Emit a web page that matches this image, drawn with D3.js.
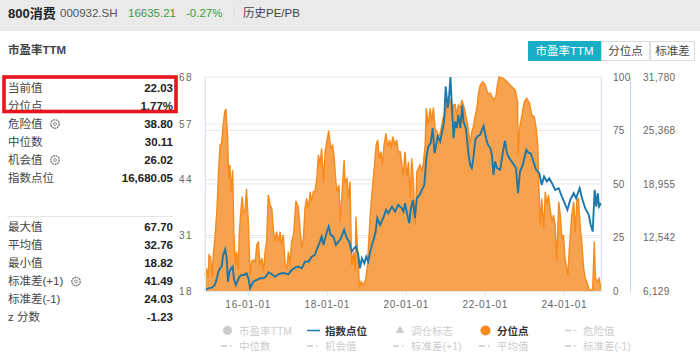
<!DOCTYPE html>
<html>
<head>
<meta charset="utf-8">
<script src="https://cdnjs.cloudflare.com/ajax/libs/d3/7.8.5/d3.min.js"></script>
<style>
html, body { margin: 0; padding: 0; background: #fff; }
svg { display: block; }
text { font-family: "Liberation Sans", "Noto Sans CJK SC", sans-serif; }
</style>
</head>
<body>
<svg id="chart" width="700" height="358"></svg>
<script>
// percentile series (year as decimal, value in %)
var pctYears = [2014.92,2014.96,2015.00,2015.02,2015.06,2015.10,2015.13,2015.17,2015.22,2015.26,2015.30,2015.34,2015.38,2015.42,2015.45,2015.49,2015.52,2015.55,2015.58,2015.62,2015.65,2015.69,2015.72,2015.76,2015.79,2015.82,2015.86,2015.89,2015.93,2015.97,
  2016.02,2016.06,2016.10,2016.14,2016.19,2016.23,2016.27,2016.31,2016.36,2016.40,2016.44,2016.48,2016.52,2016.57,2016.61,2016.65,2016.69,2016.73,2016.78,2016.82,2016.86,2016.90,2016.95,2016.99,
  2017.03,2017.07,2017.11,2017.16,2017.22,2017.28,2017.33,2017.37,2017.41,2017.45,2017.49,2017.54,2017.58,2017.62,2017.66,2017.70,2017.75,2017.79,2017.83,2017.87,2017.92,2017.96,
  2018.00,2018.05,2018.10,2018.15,2018.19,2018.23,2018.27,2018.31,2018.34,2018.39,2018.44,2018.46,2018.51,2018.55,2018.59,2018.63,2018.68,2018.72,2018.74,2018.79,2018.83,2018.87,2018.93,2018.99,
  2019.03,2019.10,2019.17,2019.21,2019.25,2019.29,2019.33,2019.37,2019.41,2019.45,2019.50,2019.54,2019.59,2019.63,2019.67,2019.73,2019.77,2019.81,2019.86,2019.90,2019.94,2019.98,
  2020.03,2020.07,2020.11,2020.15,2020.19,2020.24,2020.28,2020.32,2020.36,2020.41,2020.45,2020.49,2020.52,2020.57,2020.62,2020.66,2020.70,2020.74,2020.79,2020.83,2020.87,2020.91,2020.95,
  2021.00,2021.04,2021.08,2021.12,2021.17,2021.21,2021.25,2021.29,2021.33,2021.38,2021.42,2021.46,2021.50,2021.55,2021.59,2021.63,2021.67,2021.71,2021.76,2021.80,2021.84,2021.88,2021.95,
  2022.01,2022.07,2022.14,2022.22,2022.28,2022.32,2022.36,2022.47,2022.56,2022.64,2022.77,2022.83,2022.84,2022.88,2022.94,
  2023.00,2023.06,2023.13,2023.19,2023.25,2023.30,2023.34,2023.37,2023.40,2023.44,2023.49,2023.53,2023.57,2023.61,2023.65,2023.70,2023.74,2023.78,2023.82,2023.87,2023.91,2023.95,2023.99,
  2024.03,2024.10,2024.14,2024.20,2024.25,2024.29,2024.33,2024.37,2024.41,2024.46,2024.50,2024.54,2024.58,2024.63,2024.68,2024.73,2024.77,2024.80,2024.85,2024.89,2024.94];
var pctValues = [7.5,10.6,5.9,16.8,16.0,6.7,16.8,24.6,37.1,54.2,68.2,69.0,77.6,83.8,85.0,72.9,52.6,58.9,46.4,56.5,27.7,12.1,18.4,9.8,27.7,35.5,44.1,37.1,37.1,47.7,
  30.8,7.5,13.7,14.5,13.7,21.5,23.1,12.1,15.3,9.0,18.4,23.1,44.9,40.2,38.6,28.5,23.1,27.7,23.1,27.7,21.5,26.2,12.1,10.6,
  18.4,12.1,23.1,26.2,42.1,39.4,27.7,19.9,24.6,38.6,43.3,38.6,46.4,41.7,46.4,46.4,52.6,63.6,58.9,66.7,51.1,65.1,
  69.8,74.8,66.7,68.2,62.0,51.1,46.4,49.5,32.4,46.4,61.2,51.1,52.6,43.3,51.1,12.1,18.4,9.0,34.7,15.3,1.2,4.4,2.8,5.9,
  12.1,35.5,51.1,58.9,68.2,70.6,62.0,65.1,58.9,68.2,73.7,67.4,70.6,66.7,72.1,68.2,70.6,65.1,65.1,58.9,54.2,65.1,
  53.4,60.4,43.3,62.0,51.9,30.8,55.8,57.3,58.9,55.8,60.4,68.2,85.4,77.6,85.4,79.1,85.7,76.0,74.5,72.1,73.7,77.6,81.5,
  82.2,90.0,86.9,90.0,82.2,86.9,87.2,82.2,86.9,85.4,89.3,86.9,83.8,79.1,74.5,69.0,74.5,76.8,82.2,85.4,92.4,96.0,97.8,
  96.3,92.4,92.4,89.3,90.8,96.3,100,99.4,97.8,96.3,93.9,88.5,63.6,76.0,82.2,
  88.5,90.0,87.7,82.2,81.5,76.0,68.2,48.0,30.8,43.3,29.3,46.4,40.2,44.9,38.6,32.4,35.5,30.8,13.7,41.7,35.5,24.6,26.2,
  15.3,7.5,19.9,35.5,41.7,27.7,42.5,43.3,30.8,21.5,10.6,5.9,4.4,1.2,0,1.2,23.1,5.9,4.4,5.9,0.9];

// index level series
var indexYears = [2014.92,2015.00,2015.09,2015.17,2015.22,2015.26,2015.30,2015.34,2015.38,2015.43,2015.47,2015.50,2015.54,2015.58,2015.62,2015.65,2015.70,2015.74,2015.79,2015.85,2015.91,2015.97,
  2016.02,2016.06,2016.10,2016.14,2016.23,2016.31,2016.40,2016.46,2016.53,2016.61,2016.69,2016.78,2016.86,2016.95,
  2017.03,2017.11,2017.20,2017.28,2017.37,2017.45,2017.54,2017.62,2017.70,2017.76,2017.83,2017.87,2017.92,2017.98,
  2018.05,2018.10,2018.17,2018.23,2018.30,2018.36,2018.44,2018.51,2018.57,2018.63,2018.69,2018.74,2018.80,2018.84,2018.89,2018.95,
  2019.00,2019.05,2019.10,2019.17,2019.23,2019.28,2019.35,2019.43,2019.50,2019.56,2019.65,2019.73,2019.81,2019.90,2019.94,2019.98,
  2020.03,2020.09,2020.13,2020.18,2020.23,2020.28,2020.35,2020.41,2020.47,2020.52,2020.57,2020.63,2020.68,2020.73,2020.77,2020.81,2020.87,2020.93,2020.97,
  2021.01,2021.06,2021.10,2021.13,2021.17,2021.21,2021.25,2021.29,2021.33,2021.38,2021.43,2021.46,2021.52,2021.59,2021.63,2021.67,2021.71,2021.76,2021.81,2021.88,2021.97,
  2022.03,2022.08,2022.14,2022.18,2022.22,2022.26,2022.31,2022.39,2022.46,2022.51,2022.56,2022.62,2022.71,2022.79,2022.84,2022.89,2022.96,
  2023.05,2023.11,2023.16,2023.23,2023.30,2023.38,2023.44,2023.50,2023.57,2023.63,2023.70,2023.78,2023.87,2023.95,
  2024.02,2024.09,2024.16,2024.25,2024.31,2024.40,2024.46,2024.54,2024.63,2024.68,2024.73,2024.78,2024.82,2024.86,2024.89,2024.94];
var indexValues = [6250,6450,6530,6850,7650,8450,8850,9050,10450,11130,10050,7250,8450,8850,9050,7650,6850,7250,7850,8050,8050,8250,
  7650,6450,6850,7250,7450,7650,7650,7850,8370,8130,7850,8130,8250,8250,
  8130,8650,8930,9050,8850,9650,9650,10250,10450,11250,12050,12650,11650,12850,
  13850,12850,12650,11650,12050,12450,13450,12450,12050,10850,11250,11450,10450,8850,10050,9450,
  10250,9650,10850,12050,13050,14850,14050,14850,15850,15450,16250,15650,16450,16050,15650,16650,
  15450,14250,16050,17050,14850,17250,17650,18250,18850,22050,23450,23850,25650,22650,23650,24650,24050,25450,26450,
  30650,28050,29650,31780,28050,24450,26450,25650,27250,25650,28370,26450,25650,22450,21250,20850,22050,24250,24650,24850,25930,
  24450,23650,23250,22450,20050,21650,20850,20650,22850,24130,22650,22050,21450,20850,17850,20450,21250,
  23050,22650,22650,21650,20650,20250,18850,19850,19250,19650,19050,18250,18450,17450,
  16650,15850,17050,17850,17250,18450,17250,16050,15250,14050,13250,18250,16250,17850,16250,16680];

var xTickYears = [2016, 2018, 2020, 2022, 2024];
var xTickLabels = ["16-01-01", "18-01-01", "20-01-01", "22-01-01", "24-01-01"];
var peTicks = [18, 31, 44, 57, 68];
var pctTicks = [0, 25, 50, 75, 100];
var indexTicks = [6129, 12542, 18955, 25368, 31780];

var topStatLabels = ["当前值", "分位点"];
var topStatValues = ["22.03", "1.77%"];
var midStatLabels = ["危险值", "中位数", "机会值", "指数点位"];
var midStatValues = ["38.80", "30.11", "26.02", "16,680.05"];
var lowStatLabels = ["最大值", "平均值", "最小值", "标准差(+1)", "标准差(-1)", "z 分数"];
var lowStatValues = ["67.70", "32.76", "18.82", "41.49", "24.03", "-1.23"];

var legendRow1 = ["市盈率TTM", "指数点位", "调仓标志", "分位点", "危险值"];
var legendRow2 = ["中位数", "机会值", "标准差(+1)", "平均值", "标准差(-1)"];
var tabLabels = ["市盈率TTM", "分位点", "标准差"];

var svg = d3.select("#chart");

var left = 205, right = 601, top_ = 77, bottom = 291;

var xScale = d3.scaleLinear().domain([2014.92, 2024.94]).range([left, right]);
var peScale = d3.scaleLinear().domain([18, 68]).range([bottom, top_]);
var pctScale = d3.scaleLinear().domain([0, 100]).range([bottom, top_]);
var indexScale = d3.scaleLinear().domain([6129, 31780]).range([bottom, top_]);

var pctData = pctYears.map(function(d, i) { return { x: d, y: pctValues[i] }; });
var indexData = indexYears.map(function(d, i) { return { x: d, y: indexValues[i] }; });

// header band
svg.append("rect").attr("x", 0).attr("y", 0).attr("width", 700).attr("height", 31).attr("fill", "#eaeaea");
svg.append("text").attr("x", 8).attr("y", 18).attr("font-size", 13).attr("font-weight", "bold").attr("fill", "#222").text("800消费");
svg.append("text").attr("x", 60).attr("y", 17).attr("font-size", 11.5).attr("fill", "#555").text("000932.SH");
svg.append("text").attr("x", 128).attr("y", 17).attr("font-size", 11.5).attr("fill", "#3c9a3c").text("16635.21");
svg.append("text").attr("x", 186).attr("y", 17).attr("font-size", 11.5).attr("fill", "#3c9a3c").text("-0.27%");
svg.append("line").attr("x1", 234).attr("x2", 234).attr("y1", 6).attr("y2", 19).attr("stroke", "#ddd");
svg.append("text").attr("x", 243).attr("y", 17).attr("font-size", 11.5).attr("fill", "#444").text("历史PE/PB");

svg.append("text").attr("x", 8).attr("y", 54).attr("font-size", 11.5).attr("font-weight", "bold").attr("fill", "#444").text("市盈率TTM");

// tabs
var tabX = [528, 601, 650], tabW = [73, 49, 45];
tabLabels.forEach(function(d, i) {
  svg.append("rect").attr("x", tabX[i] + 0.5).attr("y", 41.5).attr("width", tabW[i] - 1).attr("height", 19)
    .attr("fill", i == 0 ? "#17aec6" : "#fff").attr("stroke", i == 0 ? "#17aec6" : "#ddd");
  svg.append("text").attr("x", tabX[i] + tabW[i] / 2).attr("y", 55).attr("text-anchor", "middle")
    .attr("font-size", 11.5).attr("fill", i == 0 ? "#fff" : "#444").text(d);
});

// left stats
function statRows(labels, values, y0) {
  labels.forEach(function(d, i) {
    svg.append("text").attr("x", 8).attr("y", y0 + i * 18).attr("font-size", 11.5).attr("fill", "#444").text(d);
    svg.append("text").attr("x", 173).attr("y", y0 + i * 18).attr("text-anchor", "end")
      .attr("font-size", 11.5).attr("font-weight", "bold").attr("fill", "#222").text(values[i]);
  });
}
statRows(topStatLabels, topStatValues, 91.5);
statRows(midStatLabels, midStatValues, 128);
statRows(lowStatLabels, lowStatValues, 230.5);

svg.append("rect").attr("x", 4).attr("y", 77).attr("width", 172).attr("height", 34.5)
  .attr("fill", "none").attr("stroke", "#e8141e").attr("stroke-width", 3.6);
svg.append("line").attr("x1", 7).attr("x2", 173).attr("y1", 216.5).attr("y2", 216.5).attr("stroke", "#e6e6e6");

// gear icons
[[55, 124], [55, 160], [76, 281.5]].forEach(function(p) {
  svg.append("circle").attr("cx", p[0]).attr("cy", p[1]).attr("r", 4.2).attr("fill", "none")
    .attr("stroke", "#777").attr("stroke-width", 1.4).attr("stroke-dasharray", "1.8 0.7");
  svg.append("circle").attr("cx", p[0]).attr("cy", p[1]).attr("r", 1.5).attr("fill", "none").attr("stroke", "#777").attr("stroke-width", 0.8);
});

// grid
svg.append("g").selectAll("line").data(peTicks.slice(1, 4)).join("line")
  .attr("x1", left).attr("x2", right).attr("y1", function(d) { return peScale(d); }).attr("y2", function(d) { return peScale(d); })
  .attr("stroke", "#e8e8e8");
svg.append("g").selectAll("line").data(pctTicks.slice(1, 4)).join("line")
  .attr("x1", left).attr("x2", right).attr("y1", function(d) { return pctScale(d); }).attr("y2", function(d) { return pctScale(d); })
  .attr("stroke", "#e8e8e8");
svg.append("rect").attr("x", left).attr("y", top_).attr("width", right - left).attr("height", bottom - top_)
  .attr("fill", "none").attr("stroke", "#e8ecf2");

// area + lines
var area = d3.area().x(function(d) { return xScale(d.x); }).y0(bottom).y1(function(d) { return pctScale(d.y); });
var pctLine = d3.line().x(function(d) { return xScale(d.x); }).y(function(d) { return pctScale(d.y); });
var indexLine = d3.line().x(function(d) { return xScale(d.x); }).y(function(d) { return indexScale(d.y); });

svg.append("path").datum(pctData).attr("d", area).attr("fill", "#f7a24e");
svg.append("path").datum(pctData).attr("d", pctLine).attr("fill", "none").attr("stroke", "#f78a1d").attr("stroke-width", 1.4);
svg.append("path").datum(indexData).attr("d", indexLine).attr("fill", "none").attr("stroke", "#1d78a8").attr("stroke-width", 1.9);

// axes
var xAxis = svg.append("g").attr("transform", "translate(0," + bottom + ")")
  .call(d3.axisBottom(xScale).tickValues(xTickYears).tickFormat(function(d, i) { return xTickLabels[i]; }).tickSize(5).tickPadding(6).tickSizeOuter(0));
var yLeft = svg.append("g").attr("transform", "translate(" + left + ",0)")
  .call(d3.axisLeft(peScale).tickValues(peTicks).tickSize(0).tickPadding(12));
var yPct = svg.append("g").attr("transform", "translate(" + right + ",0)")
  .call(d3.axisRight(pctScale).tickValues(pctTicks).tickSize(0).tickPadding(12));
var yIndex = svg.append("g").attr("transform", "translate(630,0)")
  .call(d3.axisRight(indexScale).tickValues(indexTicks).tickFormat(d3.format(",")).tickSize(0).tickPadding(13));

[xAxis, yLeft, yPct, yIndex].forEach(function(ax) {
  ax.selectAll("text").attr("font-size", 10).attr("fill", "#666").style("font-family", '"Liberation Sans", sans-serif');
  ax.selectAll("path,line").attr("stroke", "#dfe6f0");
});
yIndex.select("path").attr("stroke", "#c5d8e8");
xAxis.selectAll("text").attr("letter-spacing", 0.7).attr("dy", "0.6em");
yLeft.selectAll("text").attr("letter-spacing", 1.5);
yIndex.selectAll("text").attr("letter-spacing", 0.3);
yPct.selectAll("text").attr("letter-spacing", 0.3);

// legend
var legendX = [228, 314, 400, 486, 572];
var grey = "#ccc";
legendRow1.forEach(function(d, i) {
  var active = (i == 1 || i == 3);
  var x = legendX[i], y = 330.5;
  if (i == 0) svg.append("circle").attr("cx", x - 0.5).attr("cy", y).attr("r", 4.5).attr("fill", grey);
  if (i == 1) svg.append("line").attr("x1", x - 7).attr("x2", x + 6).attr("y1", y).attr("y2", y).attr("stroke", "#1d78a8").attr("stroke-width", 1.5);
  if (i == 2) svg.append("path").attr("d", d3.symbol(d3.symbolTriangle, 32)()).attr("transform", "translate(" + x + "," + y + ")").attr("fill", grey);
  if (i == 3) svg.append("circle").attr("cx", x - 0.5).attr("cy", y).attr("r", 5).attr("fill", "#f78a1d");
  if (i == 4) dash(x, y);
  svg.append("text").attr("x", x + 11).attr("y", y + 4).attr("font-size", 10.5)
    .attr("font-weight", active ? "bold" : "normal").attr("fill", active ? "#333" : grey).text(d);
});
legendRow2.forEach(function(d, i) {
  var x = legendX[i], y = 346;
  dash(x, y);
  svg.append("text").attr("x", x + 11).attr("y", y + 4).attr("font-size", 10.5).attr("fill", grey).text(d);
});
function dash(x, y) {
  svg.append("line").attr("x1", x - 7).attr("x2", x + 6).attr("y1", y).attr("y2", y)
    .attr("stroke", grey).attr("stroke-width", 1.3).attr("stroke-dasharray", "6 3 1.5 3");
}
</script>
</body>
</html>
